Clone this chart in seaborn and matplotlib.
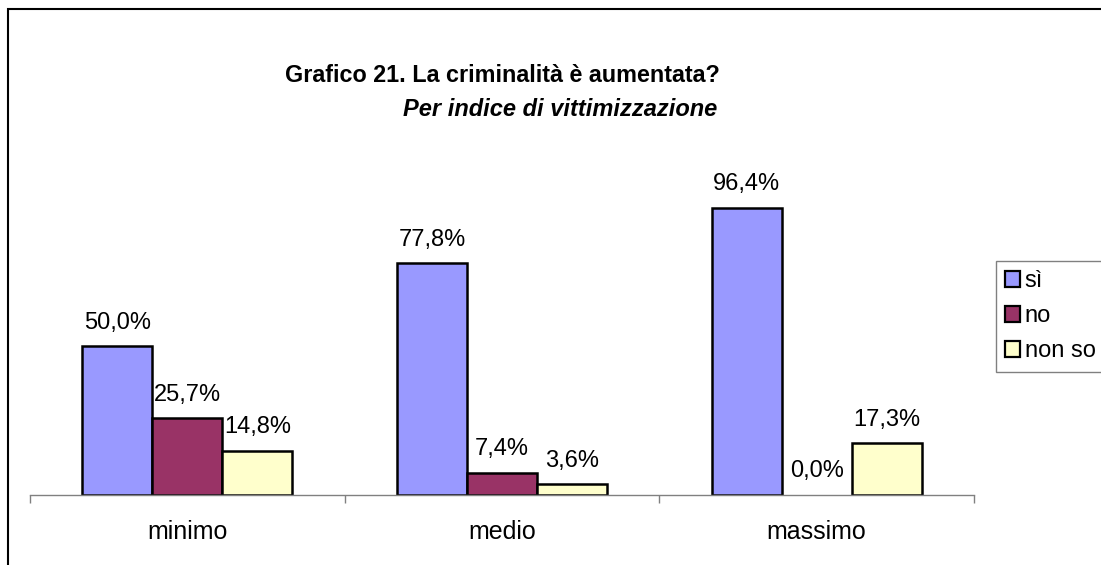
import matplotlib
matplotlib.use("Agg")
import matplotlib.pyplot as plt
import seaborn as sns
import pandas as pd
from matplotlib.patches import Patch, Rectangle

categories = ["minimo", "medio", "massimo"]
series = ["sì", "no", "non so"]
values_si = [50.0, 77.8, 96.4]
values_no = [25.7, 7.4, 0.0]
values_nonso = [14.8, 3.6, 17.3]
colors = ["#9999FF", "#993366", "#FFFFCC"]

sns.set_theme(style="white")
plt.rcParams["font.family"] = ["Liberation Sans", "DejaVu Sans"]
plt.rcParams["text.color"] = "black"
plt.rcParams["xtick.color"] = "black"

rows = []
for s, vals in zip(series, [values_si, values_no, values_nonso]):
    for c, v in zip(categories, vals):
        rows.append({"cat": c, "serie": s, "val": v})
df = pd.DataFrame(rows)

W, H = 1101, 565
fig = plt.figure(figsize=(W / 100, H / 100), dpi=100)
ax = fig.add_axes([30 / W, 1 - 495 / H, (974 - 30) / W, 357.6 / H])

sns.barplot(data=df, x="cat", y="val", hue="serie", order=categories,
            hue_order=series, palette=colors, width=2 / 3, dodge=True,
            edgecolor="black", linewidth=1.8, saturation=1, ax=ax,
            legend=False, errorbar=None)

ax.set_xlim(-0.5, 2.5)
ax.set_ylim(0, 120)
for cont in ax.containers:
    labels = [f"{b.get_height():.1f}%".replace(".", ",") for b in cont]
    ax.bar_label(cont, labels=labels, padding=9, fontsize=17, color="black")
    for b in cont:
        if b.get_height() == 0:
            b.set_linewidth(0)

for sp in ["top", "right", "left"]:
    ax.spines[sp].set_visible(False)
ax.spines["bottom"].set_color("#808080")
ax.spines["bottom"].set_linewidth(1.0)
ax.set_yticks([])
ax.set_xlabel("")
ax.set_ylabel("")
ax.set_xticks(range(len(categories)))
ax.set_xticklabels(categories, fontsize=18, color="black")
ax.tick_params(axis="x", which="major", length=0, pad=18, bottom=True)
ax.set_xticks([-0.5, 0.5, 1.5, 2.5], minor=True)
ax.tick_params(axis="x", which="minor", length=6, width=1.0, color="#808080",
               direction="out", bottom=True)
ax.patch.set_alpha(0)

handles = [Patch(facecolor=c, edgecolor="black", linewidth=1.6) for c in colors]
leg = fig.legend(handles, series, loc="upper left",
                 bbox_to_anchor=(996 / W, 1 - 261 / H), fontsize=17,
                 frameon=True, fancybox=False, edgecolor="#606060",
                 handlelength=0.62, handleheight=0.62, handletextpad=0.2,
                 labelspacing=0.55, borderpad=0.4, borderaxespad=0)
leg.get_frame().set_linewidth(1.0)

fig.text(502 / W, 1 - 76 / H, "Grafico 21. La criminalità è aumentata?",
         ha="center", va="center", fontsize=16.8, fontweight="bold",
         color="black")
fig.text(560 / W, 1 - 110 / H, "Per indice di vittimizzazione",
         ha="center", va="center", fontsize=17, fontweight="bold",
         fontstyle="italic", color="black")

fig.patches.append(Rectangle((8 / W, -0.2), 1.2, 1.2 - 9 / H,
                             transform=fig.transFigure, fill=False,
                             edgecolor="black", linewidth=1.5))

fig.savefig("out.png", dpi=100)
